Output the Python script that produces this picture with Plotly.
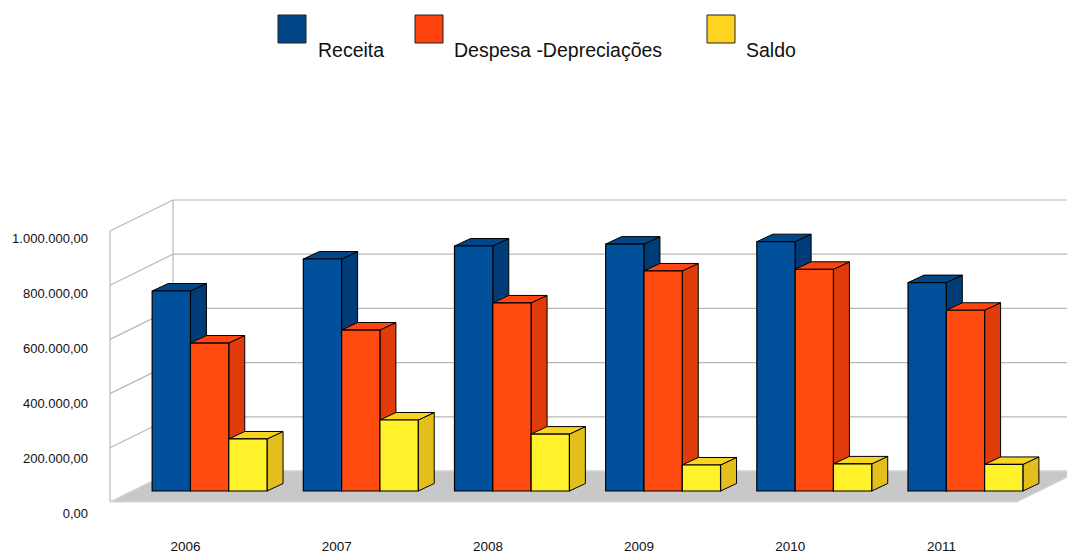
import plotly.graph_objects as go

# ---------------- data ----------------
years = ["2006", "2007", "2008", "2009", "2010", "2011"]
receita = [738000, 856000, 904000, 911000, 920000, 769000]
despesa = [546000, 594000, 694000, 812000, 818000, 667000]
saldo = [192000, 262000, 210000, 96000, 100000, 98000]
series_names = ["Receita", "Despesa -Depreciações", "Saldo"]
y_tick_values = [0, 200000, 400000, 600000, 800000, 1000000]
y_tick_labels = ["0,00", "200.000,00", "400.000,00", "600.000,00", "800.000,00", "1.000.000,00"]

# ---------------- geometry / style ----------------
W, H = 1067, 553
CAT_PX = 151.17            # pixels per category
CAT0_PX = 185.6            # pixel x of first category centre (front plane)
FLOOR_PX = 502.0           # pixel y of value 0 at front plane
PX_PER_VAL = 271e-6        # pixels per unit of value
VAL_PER_PX = 1 / PX_PER_VAL

def dx(px):  # pixel offset -> x data units
    return px / CAT_PX

def dv(px):  # pixel offset (upwards) -> value units
    return px * VAL_PER_PX

x_range = [(0 - CAT0_PX) / CAT_PX, (W - CAT0_PX) / CAT_PX]
y_range = [(FLOOR_PX - H) * VAL_PER_PX, FLOOR_PX * VAL_PER_PX]

WALL_DX, WALL_DV = dx(63), dv(31)        # depth of the box
BAR_DX, BAR_DV = dx(24), dv(11)          # bar front offset into the box
BDEP_DX, BDEP_DV = dx(16), dv(7.5)       # bar depth
BAR_W = dx(38.3)

front_cols = ["#00509c", "#ff4b0f", "#fff22b"]
top_cols = ["#004789", "#ff440e", "#f7d420"]
side_cols = ["#003d78", "#e03b0b", "#e2bf1d"]
legend_cols = ["#004586", "#ff420e", "#ffd320"]
GRID = "#b8b8b8"
FLOOR = "#c8c8c8"
FONT = "Liberation Sans, Arial, sans-serif"

series = [receita, despesa, saldo]
n = len(years)
xs = list(range(n))
x_left, x_right = -0.5, n - 0.5

shapes = []

def line(x0, y0, x1, y1, color=GRID, width=1.2):
    shapes.append(dict(type="line", xref="x", yref="y", x0=x0, y0=y0, x1=x1, y1=y1,
                       line=dict(color=color, width=width), layer="below"))

def poly(pts, fill, lw=1, lc="black"):
    path = "M " + " L ".join(f"{px},{py}" for px, py in pts) + " Z"
    shapes.append(dict(type="path", xref="x", yref="y", path=path, fillcolor=fill,
                       line=dict(color=lc, width=lw), layer="below"))

top_val = y_tick_values[-1]
# back wall grid lines + left wall diagonals
for v in y_tick_values:
    line(x_left + WALL_DX, v + WALL_DV, x_right + WALL_DX, v + WALL_DV)
    line(x_left, v, x_left + WALL_DX, v + WALL_DV)
# vertical edges
line(x_left, 0, x_left, top_val)
line(x_left + WALL_DX, WALL_DV, x_left + WALL_DX, top_val + WALL_DV)
# floor
poly([(x_left, 0), (x_right, 0), (x_right + WALL_DX, WALL_DV), (x_left + WALL_DX, WALL_DV)],
     FLOOR, lw=1, lc="#d8d8d8")

# 3D faces of the bars (top + right side), painter's order
for i in xs:
    for k, vals in enumerate(series):
        v = vals[i]
        xl = i + BAR_DX - 1.5 * BAR_W + k * BAR_W
        xr = xl + BAR_W
        b = BAR_DV
        t = b + v
        poly([(xr, b), (xr, t), (xr + BDEP_DX, t + BDEP_DV), (xr + BDEP_DX, b + BDEP_DV)],
             side_cols[k])
        poly([(xl, t), (xr, t), (xr + BDEP_DX, t + BDEP_DV), (xl + BDEP_DX, t + BDEP_DV)],
             top_cols[k])

fig = go.Figure()
for k, (name, vals) in enumerate(zip(series_names, series)):
    fig.add_trace(go.Bar(
        x=[i + BAR_DX for i in xs], y=vals, base=BAR_DV, name=name,
        width=BAR_W, offset=-1.5 * BAR_W + k * BAR_W,
        marker=dict(color=front_cols[k], line=dict(color="black", width=1.2)),
        customdata=years, hovertemplate="%{customdata}: %{y:,.2f}<extra>" + name + "</extra>",
        showlegend=False,
    ))

# axis for the value tick labels
lab_zero_px, lab_px_per_val = 513.0, 275e-6
y2_range = [(lab_zero_px - H) / lab_px_per_val, lab_zero_px / lab_px_per_val]

# manual legend
def px2paper(px, py):
    return px / W, 1 - py / H

annotations = []
legend_boxes = [(278, 306, 316), (415, 443, 452), (707, 735, 744)]
for (x0, x1, tx), name, col in zip(legend_boxes, series_names, legend_cols):
    a0 = px2paper(x0, 15)
    a1 = px2paper(x1, 43)
    shapes.append(dict(type="rect", xref="paper", yref="paper", x0=a0[0], y0=a1[1],
                       x1=a1[0], y1=a0[1], fillcolor=col, line=dict(color="#222", width=1)))
    tp = px2paper(tx, 50)
    annotations.append(dict(xref="paper", yref="paper", x=tp[0], y=tp[1], text=name,
                            showarrow=False, xanchor="left", yanchor="middle",
                            font=dict(family=FONT, size=19.5, color="#111")))

fig.update_layout(
    width=W, height=H,
    margin=dict(l=0, r=0, t=0, b=0, autoexpand=False),
    paper_bgcolor="white", plot_bgcolor="white",
    barmode="overlay",
    shapes=shapes, annotations=annotations,
    showlegend=False,
    xaxis=dict(domain=[0, 1], range=x_range, tickvals=xs, ticktext=years,
               showgrid=False, zeroline=False, showline=False, ticks="",
               anchor="free", position=(H - 536.5) / H, automargin=False,
               tickfont=dict(family=FONT, size=13.5, color="#111"), fixedrange=True),
    yaxis=dict(domain=[0, 1], range=y_range, showgrid=False, zeroline=False,
               showticklabels=False, showline=False, ticks="", fixedrange=True,
               automargin=False),
    yaxis2=dict(overlaying="y", range=y2_range, anchor="free", position=88 / W,
                side="left", tickvals=y_tick_values, ticktext=y_tick_labels,
                showgrid=False, zeroline=False, showline=False, ticks="", automargin=False,
                tickfont=dict(family=FONT, size=13, color="#111"), fixedrange=True),
)

# dummy invisible trace to activate yaxis2
fig.add_trace(go.Scatter(x=[xs[0]], y=[0], yaxis="y2", mode="markers",
                         marker=dict(opacity=0), hoverinfo="skip", showlegend=False))

fig.write_html("out.html")
